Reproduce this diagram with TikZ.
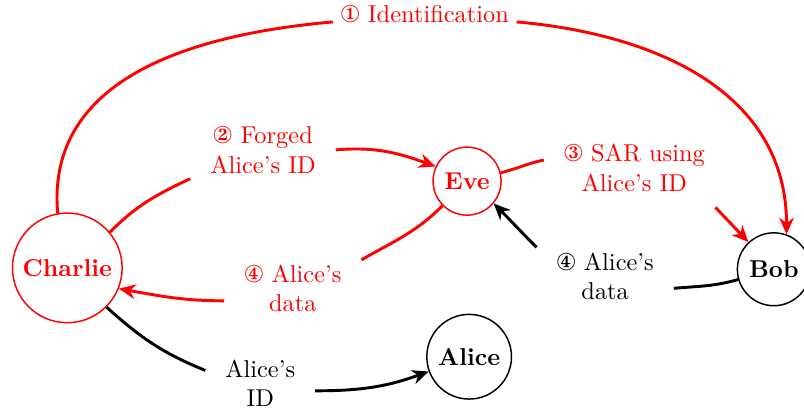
\documentclass[tikz,border=0pt]{standalone}
\usepackage{pifont}
\usetikzlibrary{arrows.meta}
\tikzset{
    party/.style={circle, draw, semithick, inner sep=0pt, font=\bfseries},
    msg/.style={align=center, inner xsep=8pt, inner ysep=2pt},
    link/.style={very thick},
    flow/.style={very thick, -{Stealth[length=2.4mm, width=2.1mm]}},
}
\begin{document}
\begin{tikzpicture}
    \useasboundingbox (0,0) rectangle (11.585,-5.951);

    \node [party, red, minimum size=1.58cm] (charlie) at (0.97,-3.86) {Charlie};
    \node [party, red, minimum size=0.98cm] (eve) at (6.73,-2.61) {Eve};
    \node [party, minimum size=1.05cm] (bob) at (11.15,-3.88) {Bob};
    \node [party, minimum size=1.22cm] (alice) at (6.76,-5.14) {Alice};

    \node [msg, red, inner xsep=3pt] (ident) at (6.12,-0.20) {\ding{172} Identification};
    \node [msg, red] (forged) at (3.79,-2.16) {\ding{173} Forged\\Alice's ID};
    \node [msg, red] (sar) at (9.14,-2.42) {\ding{174} SAR using\\Alice's ID};
    \node [msg, red] (datared) at (4.22,-4.16) {\ding{175} Alice's\\data};
    \node [msg] (datablk) at (8.72,-3.98) {\ding{175} Alice's\\data};
    \node [msg] (aliceid) at (3.75,-5.52) {Alice's\\ID};

    \draw [link, red] (charlie.100) to[out=95,in=185,looseness=1.05] (ident);
    \draw [flow, red] (ident) to[out=-5,in=90,looseness=1.05] (bob.70);

    \draw [link, red] (charlie.40) to[out=45,in=205] (forged.south west);
    \draw [flow, red] (forged.east) to[out=5,in=160] (eve.155);

    \draw [link, red] (eve.14) to[out=14,in=192] (sar.175);
    \draw [flow, red, shorten <=6pt] ([xshift=-8pt]sar.south east) -- (bob.133);

    \draw [link, red] (eve.225) to[out=225,in=30] (datared.north east);
    \draw [flow, red] (datared.190) to[out=180,in=-10] (charlie.-22);

    \draw [link] (bob.196) to[out=196,in=5] (datablk.-10);
    \draw [flow] (datablk.north west) to[out=135,in=-45] (eve.-40);

    \draw [link] (charlie.-45) to[out=-42,in=158] (aliceid.167);
    \draw [flow] (aliceid.-8) to[out=0,in=200] (alice.200);
\end{tikzpicture}
\end{document}
